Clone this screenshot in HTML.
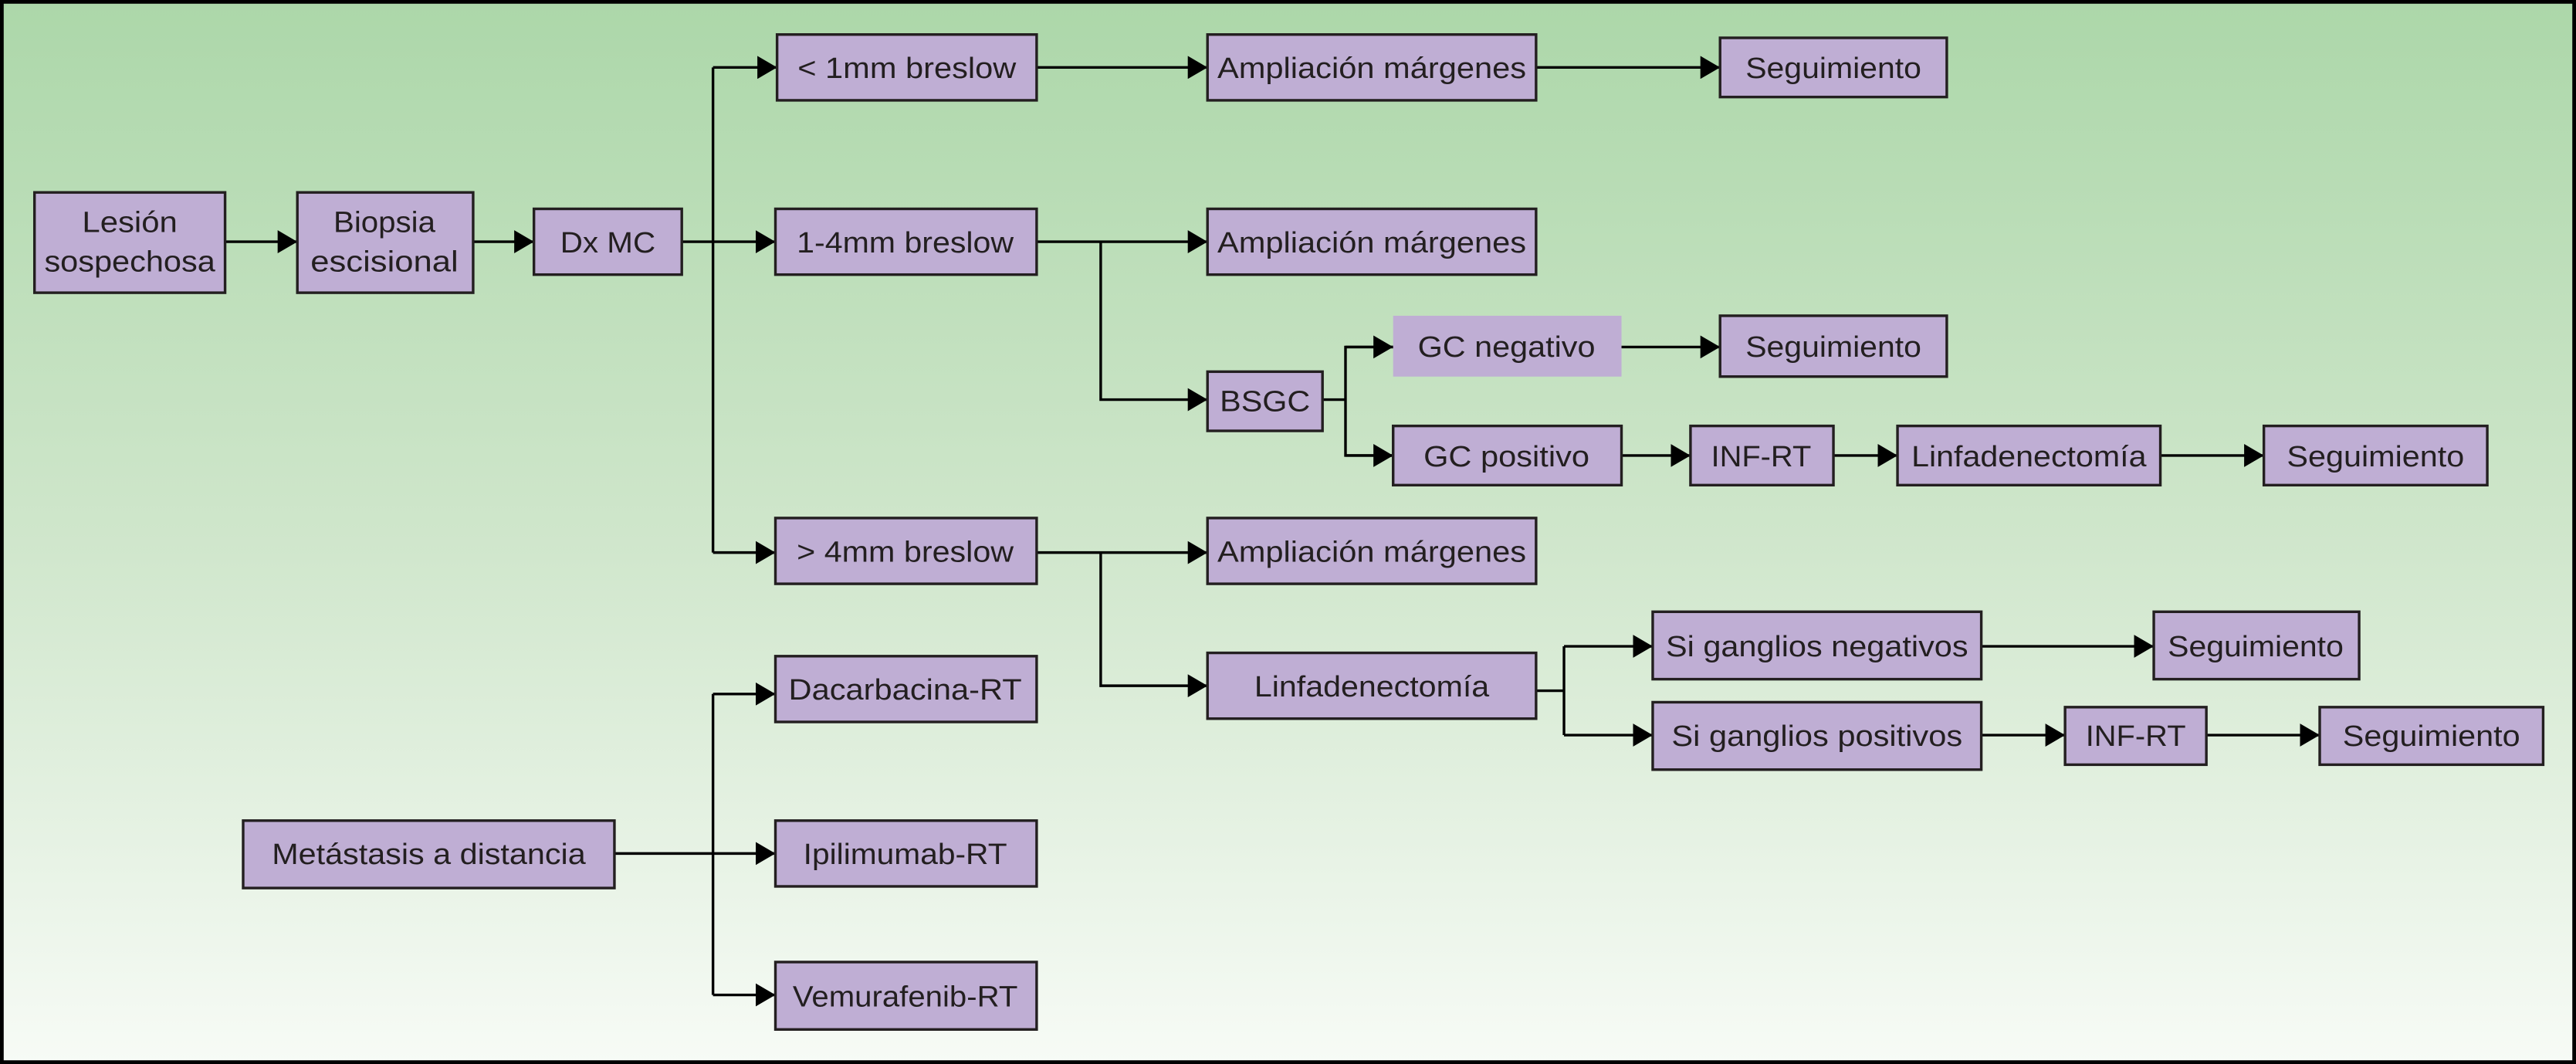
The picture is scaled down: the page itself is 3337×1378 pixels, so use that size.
<!DOCTYPE html>
<html><head><meta charset="utf-8"><style>
html,body{margin:0;padding:0;}
body{width:3337px;height:1378px;overflow:hidden;}
svg{display:block;}
text{font-family:"Liberation Sans",sans-serif;font-size:18px;fill:#231f20;text-anchor:middle;}
.b{fill:#bfaed4;stroke:#231f20;stroke-width:1.6;}
.l{stroke:#000;stroke-width:1.6;fill:none;}
</style></head><body>
<svg width="3337" height="1378" viewBox="0 0 1568 647" preserveAspectRatio="none" xmlns="http://www.w3.org/2000/svg">
<defs>
<linearGradient id="g" x1="0" y1="0" x2="0" y2="1">
<stop offset="0" stop-color="#acd7a9"/>
<stop offset="0.5" stop-color="#cfe6cb"/>
<stop offset="1" stop-color="#f7fbf6"/>
</linearGradient>
<marker id="a" viewBox="0 0 12 14" refX="12" refY="7" markerWidth="12" markerHeight="14" markerUnits="userSpaceOnUse" orient="auto">
<path d="M0,0 L12,7 L0,14 Z" fill="#000"/>
</marker>
</defs>
<rect x="0" y="0" width="1568" height="647" fill="url(#g)"/>
<rect x="1" y="1" width="1566" height="645" fill="none" stroke="#000" stroke-width="2.5"/>

<!-- connectors -->
<g class="l">
<line x1="137" y1="147" x2="181" y2="147" marker-end="url(#a)"/>
<line x1="288" y1="147" x2="325" y2="147" marker-end="url(#a)"/>
<line x1="415" y1="147" x2="434" y2="147"/>
<line x1="434" y1="41" x2="434" y2="336"/>
<line x1="434" y1="41" x2="473" y2="41" marker-end="url(#a)"/>
<line x1="434" y1="147" x2="472" y2="147" marker-end="url(#a)"/>
<line x1="434" y1="336" x2="472" y2="336" marker-end="url(#a)"/>
<line x1="631" y1="41" x2="735" y2="41" marker-end="url(#a)"/>
<line x1="935" y1="41" x2="1047" y2="41" marker-end="url(#a)"/>
<line x1="631" y1="147" x2="735" y2="147" marker-end="url(#a)"/>
<polyline points="670,147 670,243 735,243" marker-end="url(#a)"/>
<line x1="805" y1="243" x2="819" y2="243"/>
<polyline points="848,211 819,211 819,277 848,277"/>
<line x1="819" y1="211" x2="848" y2="211" marker-end="url(#a)"/>
<line x1="819" y1="277" x2="848" y2="277" marker-end="url(#a)"/>
<line x1="987" y1="211" x2="1047" y2="211" marker-end="url(#a)"/>
<line x1="987" y1="277" x2="1029" y2="277" marker-end="url(#a)"/>
<line x1="1116" y1="277" x2="1155" y2="277" marker-end="url(#a)"/>
<line x1="1315" y1="277" x2="1378" y2="277" marker-end="url(#a)"/>
<line x1="631" y1="336" x2="735" y2="336" marker-end="url(#a)"/>
<polyline points="670,336 670,417 735,417" marker-end="url(#a)"/>
<line x1="935" y1="420" x2="952" y2="420"/>
<line x1="952" y1="393" x2="952" y2="447"/>
<line x1="952" y1="393" x2="1006" y2="393" marker-end="url(#a)"/>
<line x1="952" y1="447" x2="1006" y2="447" marker-end="url(#a)"/>
<line x1="1206" y1="393" x2="1311" y2="393" marker-end="url(#a)"/>
<line x1="1206" y1="447" x2="1257" y2="447" marker-end="url(#a)"/>
<line x1="1343" y1="447" x2="1412" y2="447" marker-end="url(#a)"/>
<line x1="374" y1="519" x2="472" y2="519" marker-end="url(#a)"/>
<line x1="434" y1="422" x2="434" y2="605"/>
<line x1="434" y1="422" x2="472" y2="422" marker-end="url(#a)"/>
<line x1="434" y1="605" x2="472" y2="605" marker-end="url(#a)"/>
</g>

<!-- boxes -->
<rect class="b" x="21" y="117" width="116" height="61"/>
<text x="79" y="141" textLength="58" lengthAdjust="spacingAndGlyphs">Lesión</text>
<text x="79" y="165" textLength="104" lengthAdjust="spacingAndGlyphs">sospechosa</text>
<rect class="b" x="181" y="117" width="107" height="61"/>
<text x="234" y="141" textLength="62" lengthAdjust="spacingAndGlyphs">Biopsia</text>
<text x="234" y="165" textLength="90" lengthAdjust="spacingAndGlyphs">escisional</text>
<rect class="b" x="325" y="127" width="90" height="40"/>
<text x="370" y="153.5" textLength="58" lengthAdjust="spacingAndGlyphs">Dx MC</text>

<rect class="b" x="473" y="21" width="158" height="40"/>
<text x="552" y="47.5" textLength="133" lengthAdjust="spacingAndGlyphs">&lt; 1mm breslow</text>
<rect class="b" x="472" y="127" width="159" height="40"/>
<text x="551" y="153.5" textLength="132" lengthAdjust="spacingAndGlyphs">1-4mm breslow</text>
<rect class="b" x="472" y="315" width="159" height="40"/>
<text x="551" y="341.5" textLength="132" lengthAdjust="spacingAndGlyphs">&gt; 4mm breslow</text>

<rect class="b" x="735" y="21" width="200" height="40"/>
<text x="835" y="47.5" textLength="188" lengthAdjust="spacingAndGlyphs">Ampliación márgenes</text>
<rect class="b" x="1047" y="23" width="138" height="36"/>
<text x="1116" y="47.5" textLength="107" lengthAdjust="spacingAndGlyphs">Seguimiento</text>
<rect class="b" x="735" y="127" width="200" height="40"/>
<text x="835" y="153.5" textLength="188" lengthAdjust="spacingAndGlyphs">Ampliación márgenes</text>

<rect class="b" x="735" y="226" width="70" height="36"/>
<text x="770" y="250" textLength="55" lengthAdjust="spacingAndGlyphs">BSGC</text>
<rect x="848" y="192" width="139" height="37" fill="#bfaed4"/>
<text x="917" y="217" textLength="108" lengthAdjust="spacingAndGlyphs">GC negativo</text>
<rect class="b" x="1047" y="192" width="138" height="37"/>
<text x="1116" y="217" textLength="107" lengthAdjust="spacingAndGlyphs">Seguimiento</text>
<rect class="b" x="848" y="259" width="139" height="36"/>
<text x="917" y="283.5" textLength="101" lengthAdjust="spacingAndGlyphs">GC positivo</text>
<rect class="b" x="1029" y="259" width="87" height="36"/>
<text x="1072" y="283.5" textLength="61" lengthAdjust="spacingAndGlyphs">INF-RT</text>
<rect class="b" x="1155" y="259" width="160" height="36"/>
<text x="1235" y="283.5" textLength="143" lengthAdjust="spacingAndGlyphs">Linfadenectomía</text>
<rect class="b" x="1378" y="259" width="136" height="36"/>
<text x="1446" y="283.5" textLength="108" lengthAdjust="spacingAndGlyphs">Seguimiento</text>

<rect class="b" x="735" y="315" width="200" height="40"/>
<text x="835" y="341.5" textLength="188" lengthAdjust="spacingAndGlyphs">Ampliación márgenes</text>
<rect class="b" x="735" y="397" width="200" height="40"/>
<text x="835" y="423.5" textLength="143" lengthAdjust="spacingAndGlyphs">Linfadenectomía</text>
<rect class="b" x="1006" y="372" width="200" height="41"/>
<text x="1106" y="399" textLength="184" lengthAdjust="spacingAndGlyphs">Si ganglios negativos</text>
<rect class="b" x="1311" y="372" width="125" height="41"/>
<text x="1373" y="399" textLength="107" lengthAdjust="spacingAndGlyphs">Seguimiento</text>
<rect class="b" x="1006" y="427" width="200" height="41"/>
<text x="1106" y="453.5" textLength="177" lengthAdjust="spacingAndGlyphs">Si ganglios positivos</text>
<rect class="b" x="1257" y="430" width="86" height="35"/>
<text x="1300" y="453.5" textLength="61" lengthAdjust="spacingAndGlyphs">INF-RT</text>
<rect class="b" x="1412" y="430" width="136" height="35"/>
<text x="1480" y="453.5" textLength="108" lengthAdjust="spacingAndGlyphs">Seguimiento</text>

<rect class="b" x="472" y="399" width="159" height="40"/>
<text x="551" y="425.5" textLength="142" lengthAdjust="spacingAndGlyphs">Dacarbacina-RT</text>
<rect class="b" x="472" y="499" width="159" height="40"/>
<text x="551" y="525.5" textLength="124" lengthAdjust="spacingAndGlyphs">Ipilimumab-RT</text>
<rect class="b" x="472" y="585" width="159" height="41"/>
<text x="551" y="612" textLength="137" lengthAdjust="spacingAndGlyphs">Vemurafenib-RT</text>
<rect class="b" x="148" y="499" width="226" height="41"/>
<text x="261" y="525.5" textLength="191" lengthAdjust="spacingAndGlyphs">Metástasis a distancia</text>
</svg>
</body></html>
